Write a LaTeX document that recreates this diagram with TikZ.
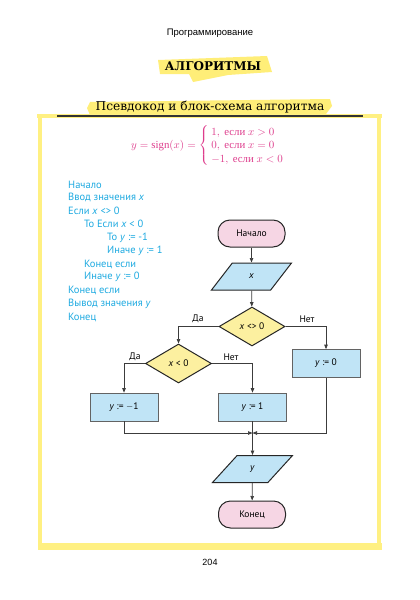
\documentclass[tikz,border=0pt]{standalone}
\usepackage{amsmath}
\usepackage{fontspec}
\setmainfont{Liberation Serif}
\newfontfamily\ptsans{PT Sans}
\newfontfamily\hdrfont{Liberation Sans}
\newfontfamily\ttlfont{DejaVu Serif}
\usetikzlibrary{shapes.geometric,arrows.meta}
\definecolor{pinkf}{RGB}{246,214,228}
\definecolor{bluef}{RGB}{192,228,246}
\definecolor{yelf}{RGB}{252,240,160}
\definecolor{linec}{RGB}{60,60,60}
\definecolor{cyantext}{RGB}{30,170,225}
\definecolor{magtext}{RGB}{222,60,140}
\definecolor{hlyel}{RGB}{255,238,120}
\definecolor{framey}{RGB}{255,240,130}
\tikzset{
  conn/.style={draw=linec, line width=0.7pt},
  arr/.style={conn, -{Triangle[length=4.5pt,width=3.5pt]}},
  fcfont/.style={font=\ptsans\fontsize{9.5}{11}\selectfont},
  term/.style={draw=black!85, line width=1pt, fill=pinkf, rectangle, rounded corners=12pt,
    minimum width=67pt, minimum height=27pt, fcfont, inner sep=0pt},
  iobox/.style={draw=black!85, line width=1pt, fill=bluef, trapezium, trapezium stretches=true,
    trapezium left angle=61, trapezium right angle=119, minimum width=80pt, minimum height=27pt,
    fcfont, inner sep=0pt},
  procbox/.style={draw=linec!80, line width=0.7pt, fill=bluef, rectangle,
    minimum width=68pt, minimum height=28pt, fcfont, inner sep=0pt},
  decbox/.style={draw=black!85, line width=1pt, fill=yelf, diamond,
    minimum width=66pt, minimum height=39pt, fcfont, inner sep=0pt},
  lbl/.style={fcfont, inner sep=0pt},
  code/.style={anchor=west, font=\ptsans\fontsize{10.5}{12}\selectfont, text=cyantext, inner sep=0pt},
}
\begin{document}
\begin{tikzpicture}[x=1pt,y=-1pt]
\useasboundingbox[fill=white] (0,0) rectangle (420,600);
% header
\node[font=\hdrfont\fontsize{9.5}{11}\selectfont] (hdr) at (210,33) {Программирование};
% title highlight
\fill[hlyel] (158,60) -- (267,56) -- (272,72) -- (228,75) -- (193,82) -- (189,74) -- (160,74) -- cycle;
\node[font=\ttlfont\bfseries\fontsize{12}{14}\selectfont] (title) at (213,66) {АЛГОРИТМЫ};
% subtitle highlight
\fill[hlyel] (90,102) -- (330,99) -- (332,106) -- (326,114) -- (90,115) -- (87,108) -- cycle;
\node[font=\ttlfont\fontsize{12.2}{14}\selectfont, inner sep=1pt] (subtitle) at (210,107.5) {Псевдокод и блок-схема алгоритма};
% frame
\draw[framey, line width=4pt] (40,116) -- (40,546);
\draw[framey, line width=4pt] (379,116) -- (379,546);
\draw[framey, line width=4pt] (37,116) -- (382,116);
\draw[framey, line width=7pt] (38,546) -- (382,546);
\draw[black!80, line width=1.3pt] (57,116) -- (363,116);
% formula
\node[text=magtext, font=\fontsize{10.8}{13}\selectfont, inner sep=0pt] (formula) at (213,145.5)
  {$y = \operatorname{sign}(x) = \begin{cases}\ 1,\ \text{если}\ x>0\\[-2pt] \ 0,\ \text{если}\ x=0\\[-2pt] \ {-1},\ \text{если}\ x<0\end{cases}$};
% pseudocode
\node[code] (c1) at (68,184.5) {Начало};
\node[code] (c2) at (68,197.8) {Ввод значения \textit{x}};
\node[code] (c3) at (68,211) {Если \textit{x} <> 0};
\node[code] (c4) at (84,224.3) {То Если \textit{x} < 0};
\node[code] (c5) at (107,237.5) {То \textit{y} := -1};
\node[code] (c6) at (107,250.8) {Иначе \textit{y} := 1};
\node[code] (c7) at (84,264) {Конец если};
\node[code] (c8) at (84,277.3) {Иначе \textit{y} := 0};
\node[code] (c9) at (68,290.5) {Конец если};
\node[code] (c10) at (68,303.8) {Вывод значения \textit{y}};
\node[code] (c11) at (68,317) {Конец};
% flowchart
\node[term] (start) at (251.5,233.5) {Начало};
\node[iobox] (inx) at (251.5,276.5) {\textit{x}};
\node[decbox] (d1) at (252,326.5) {\textit{x} <> 0};
\node[decbox] (d2) at (178.5,363.5) {\textit{x} < 0};
\node[procbox] (b0) at (326,363.5) {\textit{y} := 0};
\node[procbox] (bm) at (124,407) {\textit{y} := $-$1};
\node[procbox] (bp) at (252.5,407) {\textit{y} := 1};
\coordinate (j) at (252.5,433);
\node[iobox] (outy) at (252.5,469) {\textit{y}};
\node[term] (stop) at (252,514.5) {Конец};
\draw[arr] (start) -- (inx);
\draw[arr] (inx) -- (d1);
\draw[arr] (d1.west) -| (d2.north);
\draw[arr] (d1.east) -| (b0.north);
\draw[arr] (d2.west) -| (bm.north);
\draw[arr] (d2.east) -| (bp.north);
\draw[arr] (bm.south) |- (j);
\draw[arr] (b0.south) |- (j);
\draw[conn] (bp.south) -- (j);
\draw[arr] (j) -- (outy.north);
\draw[arr] (outy) -- (stop);
\node[lbl, anchor=south] (l1) at (198,323) {Да};
\node[lbl, anchor=south] (l2) at (307,323) {Нет};
\node[lbl, anchor=south] (l3) at (135,361) {Да};
\node[lbl, anchor=south] (l4) at (231,361) {Нет};
% page number
\node[font=\hdrfont\fontsize{9}{11}\selectfont] (pnum) at (210,562) {204};
\end{tikzpicture}
\end{document}
